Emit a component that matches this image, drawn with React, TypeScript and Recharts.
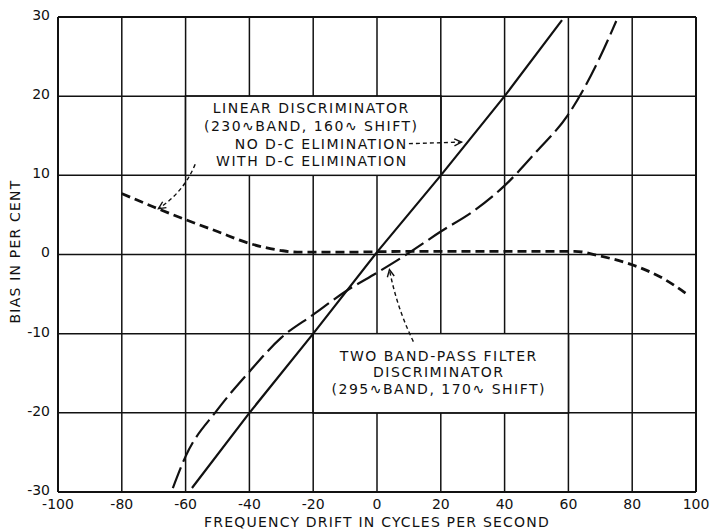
import React from "react";
import {
  LineChart,
  Line,
  XAxis,
  YAxis,
  ReferenceArea,
  ReferenceLine,
} from "recharts";

// frequency drift (cycles per second) vs bias (per cent)
const xTicks = [-100, -80, -60, -40, -20, 0, 20, 40, 60, 80, 100];
const yTicks = [-30, -20, -10, 0, 10, 20, 30];

const linearX = [-58, -40, -20, 0, 20, 40, 58];
const linearY = [-29.5, -20, -10, 0.3, 10, 20, 29.6];

const bandPassX = [-64, -60, -50, -40, -30, -20, -10, 0, 10, 20, 30, 40, 50, 60, 70, 75];
const bandPassY = [-29.5, -25.5, -19.6, -14.8, -10.5, -7.6, -4.7, -2.3, 0.2, 2.9, 5.4, 8.7, 13, 17.7, 25, 29.5];

const dcElimX = [-80, -70, -60, -50, -40, -30, -25, -10, 10, 30, 50, 62, 70, 80, 90, 97.5];
const dcElimY = [7.7, 6.0, 4.4, 2.9, 1.4, 0.5, 0.3, 0.3, 0.4, 0.4, 0.4, 0.4, -0.2, -1.3, -3.1, -5.1];

const linearLabel = [
  "LINEAR DISCRIMINATOR",
  "(230\u223FBAND, 160\u223F SHIFT)",
  "NO D-C ELIMINATION",
  "WITH D-C ELIMINATION",
];
const bandPassLabel = [
  "TWO BAND-PASS FILTER",
  "DISCRIMINATOR",
  "(295\u223FBAND, 170\u223F SHIFT)",
];

const toPoints = (xs: number[], ys: number[]) => xs.map((x, i) => ({ x, y: ys[i] }));
const linearData = toPoints(linearX, linearY);
const bandPassData = toPoints(bandPassX, bandPassY);
const dcElimData = toPoints(dcElimX, dcElimY);

const FONT = "'DejaVu Sans', sans-serif";
const INK = "#111";

const textStyle = {
  fontFamily: FONT,
  fontSize: 14,
  fill: INK,
  letterSpacing: 1.5,
};

// dashed pointer with an open arrowhead, bent by `bend` px
const arrowShape = (bend: number) => (p: any) => {
  const { x1, y1, x2, y2 } = p;
  const mx = (x1 + x2) / 2;
  const my = (y1 + y2) / 2;
  const dx = x2 - x1;
  const dy = y2 - y1;
  const len = Math.sqrt(dx * dx + dy * dy) || 1;
  const cx = mx - (dy / len) * bend;
  const cy = my + (dx / len) * bend;
  const ang = Math.atan2(y2 - cy, x2 - cx);
  const h = 8;
  const a1 = ang + Math.PI - 0.45;
  const a2 = ang + Math.PI + 0.45;
  return (
    <g>
      <path
        d={`M${x1},${y1} Q${cx},${cy} ${x2},${y2}`}
        fill="none"
        stroke={INK}
        strokeWidth={1.4}
        strokeDasharray="4 3"
      />
      <path
        d={`M${x2 + h * Math.cos(a1)},${y2 + h * Math.sin(a1)} L${x2},${y2} L${x2 + h * Math.cos(a2)},${y2 + h * Math.sin(a2)}`}
        fill="none"
        stroke={INK}
        strokeWidth={1.4}
      />
    </g>
  );
};

// white panel drawn again inside the label so it always sits over the grid
const Panel = ({ viewBox }: any) => (
  <rect
    x={viewBox.x}
    y={viewBox.y}
    width={viewBox.width}
    height={viewBox.height}
    fill="#fff"
    stroke={INK}
    strokeWidth={1.5}
  />
);

const LinearBox = ({ viewBox }: any) => {
  const { x, y, width } = viewBox;
  const cx = x + width / 2 - 2;
  const right = x + width - 33;
  return (
    <g>
      <Panel viewBox={viewBox} />
      <text x={cx} y={y + 17} textAnchor="middle" style={textStyle}>{linearLabel[0]}</text>
      <text x={cx} y={y + 35} textAnchor="middle" style={textStyle}>{linearLabel[1]}</text>
      <text x={right} y={y + 53} textAnchor="end" style={textStyle}>{linearLabel[2]}</text>
      <text x={right} y={y + 70} textAnchor="end" style={textStyle}>{linearLabel[3]}</text>
    </g>
  );
};

const BandPassBox = ({ viewBox }: any) => {
  const { x, y, width } = viewBox;
  const cx = x + width / 2 - 2;
  return (
    <g>
      <Panel viewBox={viewBox} />
      <text x={cx} y={y + 27} textAnchor="middle" style={textStyle}>{bandPassLabel[0]}</text>
      <text x={cx} y={y + 43} textAnchor="middle" style={textStyle}>{bandPassLabel[1]}</text>
      <text x={cx} y={y + 60} textAnchor="middle" style={textStyle}>{bandPassLabel[2]}</text>
    </g>
  );
};

const XTitle = ({ viewBox }: any) => (
  <text
    x={viewBox.x + viewBox.width / 2}
    y={viewBox.y + 35}
    textAnchor="middle"
    style={{ ...textStyle, letterSpacing: 1.2 }}
  >
    FREQUENCY DRIFT IN CYCLES PER SECOND
  </text>
);

const YTitle = ({ viewBox }: any) => {
  const x = viewBox.x + 20;
  const y = viewBox.y + viewBox.height / 2 - 3;
  return (
    <text
      x={x}
      y={y}
      textAnchor="middle"
      transform={`rotate(-90, ${x}, ${y})`}
      style={{ ...textStyle, letterSpacing: 1.2 }}
    >
      BIAS IN PER CENT
    </text>
  );
};

const tickStyle = { fill: INK, fontSize: 14, fontFamily: FONT };

export default function App() {
  return (
    <div style={{ position: "absolute", left: 0, top: 0, background: "#fff" }}>
      <LineChart
        width={710}
        height={530}
        margin={{ top: 17, right: 14, bottom: 0, left: 0 }}
      >
        <XAxis
          type="number"
          dataKey="x"
          domain={[-100, 100]}
          ticks={xTicks}
          tickSize={0}
          tickMargin={7}
          height={38}
          tick={tickStyle}
          axisLine={{ stroke: INK, strokeWidth: 2 }}
          label={{ content: XTitle }}
          allowDataOverflow
        />
        <YAxis
          type="number"
          domain={[-30, 30]}
          ticks={yTicks}
          tickSize={0}
          tickMargin={8}
          width={58}
          tick={{ ...tickStyle, dy: -2 }}
          axisLine={{ stroke: INK, strokeWidth: 2 }}
          label={{ content: YTitle }}
          allowDataOverflow
        />
        {/* grid */}
        {xTicks.map((t) => (
          <ReferenceLine
            key={`gx${t}`}
            x={t}
            stroke={INK}
            strokeWidth={t === -100 || t === 100 ? 2 : 1.5}
            zIndex={-100}
          />
        ))}
        {yTicks.map((t) => (
          <ReferenceLine
            key={`gy${t}`}
            y={t}
            stroke={INK}
            strokeWidth={t === -30 || t === 30 ? 2 : 1.5}
            zIndex={-100}
          />
        ))}
        <ReferenceArea
          x1={-60}
          x2={20}
          y1={10}
          y2={20}
          fill="#fff"
          fillOpacity={1}
          stroke={INK}
          strokeWidth={1.5}
          zIndex={300}
          label={{ content: LinearBox }}
        />
        <ReferenceArea
          x1={-20}
          x2={60}
          y1={-20}
          y2={-10}
          fill="#fff"
          fillOpacity={1}
          stroke={INK}
          strokeWidth={1.5}
          zIndex={300}
          label={{ content: BandPassBox }}
        />
        <ReferenceLine
          segment={[{ x: 10, y: 14 }, { x: 26.5, y: 14.2 }]}
          shape={arrowShape(0)}
          zIndex={2100}
        />
        <ReferenceLine
          segment={[{ x: -57, y: 11.4 }, { x: -68.5, y: 5.8 }]}
          shape={arrowShape(-9)}
          zIndex={2100}
        />
        <ReferenceLine
          segment={[{ x: 11.4, y: -11 }, { x: 3.9, y: -1.9 }]}
          shape={arrowShape(-5)}
          zIndex={2100}
        />
        <Line
          data={dcElimData}
          dataKey="y"
          type="monotone"
          stroke={INK}
          strokeWidth={2.8}
          strokeDasharray="9 5"
          dot={false}
          isAnimationActive={false}
        />
        <Line
          data={bandPassData}
          dataKey="y"
          type="monotone"
          stroke={INK}
          strokeWidth={2.2}
          strokeDasharray="22 6"
          dot={false}
          isAnimationActive={false}
        />
        <Line
          data={linearData}
          dataKey="y"
          type="linear"
          stroke={INK}
          strokeWidth={2.2}
          dot={false}
          isAnimationActive={false}
        />
      </LineChart>
    </div>
  );
}
